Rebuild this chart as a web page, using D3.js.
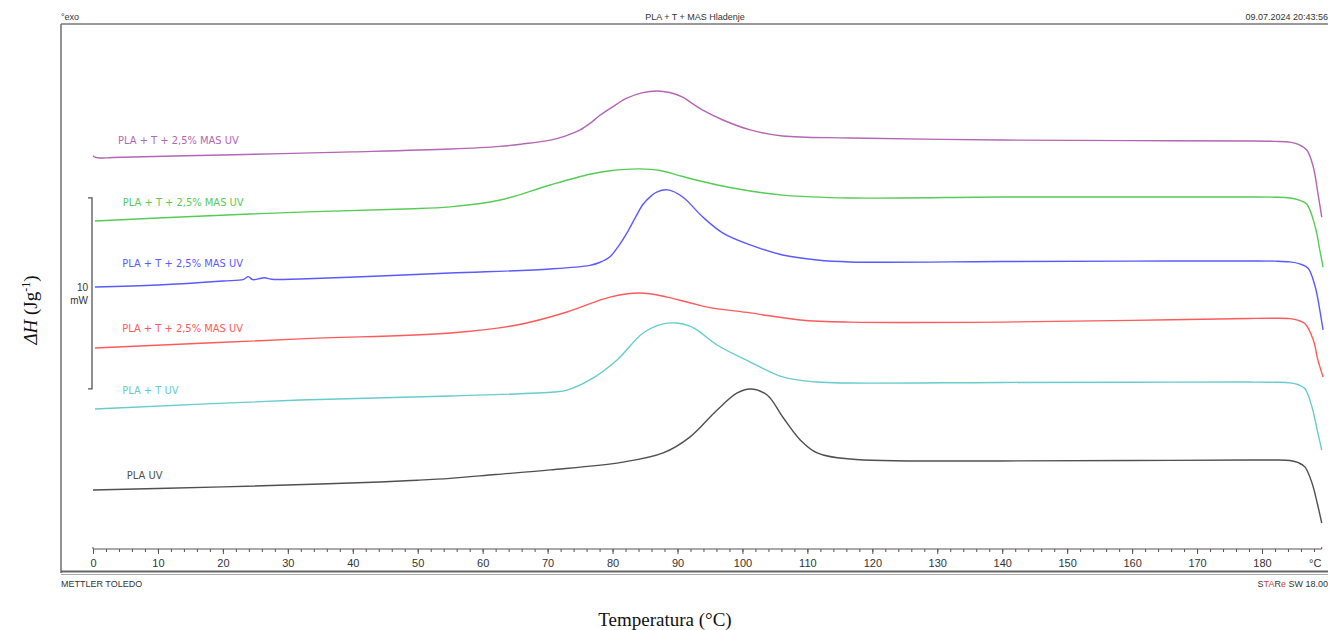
<!DOCTYPE html>
<html>
<head>
<meta charset="utf-8">
<script src="https://cdn.jsdelivr.net/npm/d3@7"></script>
<style>
  html, body { margin: 0; padding: 0; background: #fff; }
  svg { display: block; font-family: "Liberation Sans", Arial, sans-serif; }
</style>
</head>
<body>
<div id="chart"></div>
<script>
// Temperature (°C) and heat flow (mW, stacked offsets as plotted)
const purpleT = [0, 0.3, 1.1, 3, 20, 40, 55, 62.7, 66, 70.4, 72.7, 75, 76.6, 78.1, 80, 82.2, 84.5, 86.8, 88.8, 90.8, 92.3, 93.9, 97, 101.2, 106.2, 116.6, 140, 160, 178, 182, 184.3, 185.6, 186.9, 187.9, 188.6, 189.2]
const purpleV = [20.58, 20.52, 20.47, 20.5, 20.63, 20.79, 20.94, 21.08, 21.2, 21.41, 21.62, 21.94, 22.3, 22.72, 23.15, 23.6, 23.88, 23.98, 23.9, 23.66, 23.32, 22.98, 22.46, 21.94, 21.62, 21.52, 21.41, 21.38, 21.36, 21.34, 21.3, 21.18, 20.89, 20.0, 18.64, 17.38]

const greenT = [0.3, 10, 31.9, 48, 55, 62.7, 70.4, 76.5, 79.6, 84.2, 87.3, 90.8, 98.5, 106.2, 116.6, 140, 160, 178, 182, 184.3, 185.6, 186.9, 188.2, 188.9, 189.4]
const greenV = [17.17, 17.33, 17.64, 17.8, 17.91, 18.27, 19.06, 19.62, 19.8, 19.9, 19.82, 19.5, 18.9, 18.53, 18.38, 18.43, 18.43, 18.43, 18.42, 18.38, 18.28, 18.05, 16.86, 15.65, 14.76]

const blueT = [0.3, 10, 20, 23.2, 23.9, 24.6, 25.4, 26.4, 27.5, 31.9, 44.2, 55, 70.4, 76.5, 78, 79.6, 81, 82.2, 83.5, 84.7, 86, 86.8, 88.5, 90.8, 93.9, 97, 101.2, 106.2, 111.5, 116.6, 140, 160, 178, 182, 184.3, 185.8, 187.1, 188.2, 188.9, 189.4]
const blueV = [13.72, 13.82, 14.03, 14.12, 14.26, 14.1, 14.14, 14.2, 14.12, 14.14, 14.29, 14.45, 14.66, 14.85, 15.0, 15.3, 15.9, 16.54, 17.35, 18.05, 18.5, 18.69, 18.8, 18.43, 17.38, 16.54, 15.92, 15.39, 15.13, 15.03, 15.05, 15.07, 15.08, 15.07, 15.03, 14.93, 14.7, 13.72, 12.51, 11.47]

const redT = [0.3, 31.9, 55, 65.3, 73, 79.6, 84.2, 88.4, 92, 95, 101.2, 108.9, 116.6, 140, 160, 178, 182, 184.3, 185.6, 186.6, 187.9, 188.6, 189.4]
const redV = [10.52, 11.0, 11.31, 11.73, 12.41, 13.19, 13.4, 13.19, 12.88, 12.64, 12.36, 11.99, 11.88, 11.88, 11.97, 12.07, 12.08, 12.06, 11.97, 11.8, 10.94, 9.9, 9.01]

const cyanT = [0.3, 31.9, 55, 71, 73, 76.5, 80.7, 84.7, 87.8, 89.9, 91.8, 93, 96.1, 101.2, 106.2, 111.5, 116.6, 140, 160, 178, 182, 184.3, 185.6, 186.6, 187.7, 188.5, 189.2]
const cyanV = [7.33, 7.8, 8.01, 8.22, 8.32, 8.85, 9.9, 11.31, 11.79, 11.83, 11.68, 11.47, 10.68, 9.79, 9.01, 8.74, 8.69, 8.72, 8.73, 8.74, 8.73, 8.7, 8.6, 8.4, 7.43, 6.23, 5.18]

const blackT = [0, 20, 35, 44.2, 50, 55, 62, 70.4, 81.6, 87.8, 91.9, 96.1, 99.2, 101.2, 103.8, 106.2, 108.9, 111.5, 116.6, 140, 160, 178, 182, 184.3, 185.6, 186.6, 187.7, 188.5, 189.2]
const blackV = [3.09, 3.25, 3.4, 3.51, 3.6, 3.7, 3.9, 4.14, 4.55, 5.03, 5.86, 7.28, 8.17, 8.38, 8.06, 6.91, 5.71, 5.03, 4.71, 4.61, 4.63, 4.66, 4.66, 4.63, 4.52, 4.3, 3.46, 2.41, 1.36]

const seriesNames  = ['PLA + T + 2,5% MAS UV', 'PLA + T + 2,5% MAS UV', 'PLA + T + 2,5% MAS UV', 'PLA + T + 2,5% MAS UV', 'PLA + T UV', 'PLA UV']
const seriesColors = ['#b366b3', '#55cc55', '#5a5aff', '#ff5a5a', '#66cccc', '#505050']
// label anchors in data units (°C, mW)
const labelT = [3.85, 4.6, 4.5, 4.5, 4.5, 5.2]
const labelV = [21.36, 18.12, 14.92, 11.52, 8.27, 3.82]

const xTicks = [0, 10, 20, 30, 40, 50, 60, 70, 80, 90, 100, 110, 120, 130, 140, 150, 160, 170, 180]
const scaleBarBase = 8.38   // mW, bottom of the 10 mW bar
const scaleBarSize = 10

const W = 1330, H = 630

const series = [
  { t: purpleT, v: purpleV }, { t: greenT, v: greenV }, { t: blueT, v: blueV },
  { t: redT, v: redV }, { t: cyanT, v: cyanV }, { t: blackT, v: blackV }
]

const svg = d3.select('#chart').append('svg')
  .attr('width', W).attr('height', H)
  .attr('viewBox', `0 0 ${W} ${H}`)

const x = d3.scaleLinear().domain([0, 180]).range([93, 1262])
const y = d3.scaleLinear().domain([0, 27.5]).range([549, 23.75])
const tEnd = 189.2

// frame
svg.append('line').attr('x1', 61).attr('x2', 1328).attr('y1', 24).attr('y2', 24)
  .attr('stroke', '#777').attr('stroke-width', 1.6)
svg.append('line').attr('x1', 61).attr('x2', 61).attr('y1', 24).attr('y2', 573)
  .attr('stroke', '#777').attr('stroke-width', 1.6)
svg.append('line').attr('x1', 61).attr('x2', 1328).attr('y1', 571.5).attr('y2', 571.5)
  .attr('stroke', '#666').attr('stroke-width', 1.8)
svg.append('line').attr('x1', 61).attr('x2', 1328).attr('y1', 574.5).attr('y2', 574.5)
  .attr('stroke', '#aaa').attr('stroke-width', 1)

// header / footer texts
const small = { size: '9px', fill: '#333' }
svg.append('text').attr('x', 61).attr('y', 20).attr('font-size', small.size).attr('fill', small.fill).text('°exo')
svg.append('text').attr('x', 695).attr('y', 20).attr('text-anchor', 'middle')
  .attr('font-size', small.size).attr('fill', small.fill).text('PLA + T + MAS Hladenje')
svg.append('text').attr('x', 1328).attr('y', 20).attr('text-anchor', 'end')
  .attr('font-size', small.size).attr('fill', small.fill).text('09.07.2024 20:43:56')
svg.append('text').attr('x', 61).attr('y', 587).attr('font-size', small.size).attr('fill', small.fill)
  .text('METTLER TOLEDO')
const star = svg.append('text').attr('x', 1328).attr('y', 587).attr('text-anchor', 'end')
  .attr('font-size', small.size).attr('fill', small.fill)
star.append('tspan').text('S')
star.append('tspan').attr('fill', '#e0403a').text('TA')
star.append('tspan').text('R')
star.append('tspan').attr('fill', '#e0403a').text('e')
star.append('tspan').text(' SW 18.00')

// x axis
const axisScale = x.copy().domain([0, tEnd]).range([x(0), x(tEnd)])
const axisG = svg.append('g').attr('transform', 'translate(0,549)')
axisG.call(d3.axisBottom(axisScale).tickValues(d3.range(0, tEnd, 2)).tickSize(3).tickFormat(''))
  .call(g => g.selectAll('line').attr('stroke', '#555'))
  .call(g => g.select('.domain').attr('stroke', '#555').attr('d', `M${x(0)},-2V0H${x(tEnd)}V-2`))
const majorG = svg.append('g').attr('transform', 'translate(0,549)')
majorG.call(d3.axisBottom(axisScale).tickValues(xTicks).tickSize(5).tickPadding(5))
  .call(g => g.select('.domain').remove())
  .call(g => g.selectAll('line').attr('stroke', '#555'))
  .call(g => g.selectAll('text').attr('fill', '#333').attr('font-size', '11px')
    .attr('font-family', '"Liberation Sans", Arial, sans-serif'))
svg.append('text').attr('x', axisScale(188.2)).attr('y', 567).attr('text-anchor', 'middle')
  .attr('font-size', '11px').attr('fill', '#333').text('°C')

// 10 mW scale bar
const bar = svg.append('g').attr('stroke', '#555').attr('stroke-width', 1.3).attr('fill', 'none')
bar.append('path').attr('d',
  `M88,${y(scaleBarBase + scaleBarSize)}H92V${y(scaleBarBase)}H88`)
svg.append('text').attr('x', 88).attr('y', y(scaleBarBase + scaleBarSize / 2) - 2)
  .attr('text-anchor', 'end').attr('font-size', '10px').attr('fill', '#333').text('10')
svg.append('text').attr('x', 88).attr('y', y(scaleBarBase + scaleBarSize / 2) + 11)
  .attr('text-anchor', 'end').attr('font-size', '10px').attr('fill', '#333').text('mW')

// curves
const line = d3.line()
  .x(d => x(d[0]))
  .y(d => y(d[1]))
  .curve(d3.curveCatmullRom.alpha(0.5))

series.forEach((s, i) => {
  const pts = s.t.map((t, j) => [t, s.v[j]])
  svg.append('path').attr('d', line(pts)).attr('fill', 'none')
    .attr('stroke', seriesColors[i]).attr('stroke-width', 1.4)
  svg.append('text').attr('x', x(labelT[i])).attr('y', y(labelV[i]))
    .attr('dominant-baseline', 'middle')
    .attr('font-family', '"Liberation Sans Narrow", "DejaVu Sans Condensed", Arial, sans-serif')
    .attr('font-size', '11px').attr('fill', seriesColors[i]).text(seriesNames[i])
})

// axis titles
const yl = svg.append('text').attr('transform', 'translate(37,310) rotate(-90)')
  .attr('text-anchor', 'middle').attr('font-family', '"Liberation Serif", "Times New Roman", serif')
  .attr('font-size', '19px').attr('fill', '#111')
yl.append('tspan').attr('font-style', 'italic').text('ΔH')
yl.append('tspan').text(' (Jg')
yl.append('tspan').attr('font-size', '12px').attr('dy', -7).text('-1')
yl.append('tspan').attr('dy', 7).text(')')

svg.append('text').attr('x', 665).attr('y', 626).attr('text-anchor', 'middle')
  .attr('font-family', '"Liberation Serif", "Times New Roman", serif')
  .attr('font-size', '19px').attr('fill', '#111').text('Temperatura (°C)')
</script>
</body>
</html>
